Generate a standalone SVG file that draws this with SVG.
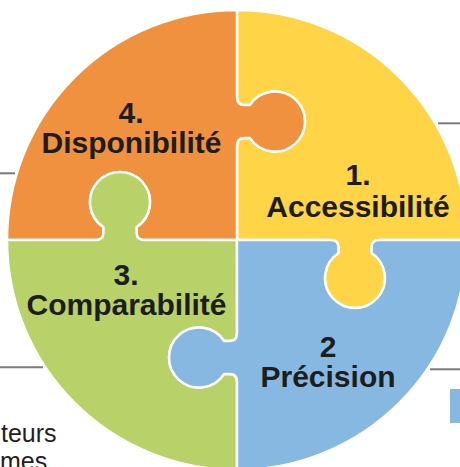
<svg xmlns="http://www.w3.org/2000/svg" width="460" height="467" viewBox="0 0 460 467">
<style>
.piece{stroke:#fff;stroke-width:2.5;stroke-linejoin:round}
.lbl{font-family:"Liberation Sans",Arial,sans-serif;font-weight:bold;font-size:30px;fill:#1d1d1b;text-anchor:middle}
.side{font-family:"Liberation Sans",Arial,sans-serif;font-size:25px;fill:#231f20}
.rule{stroke:#7a7a7a;stroke-width:2}
</style>
<rect width="460" height="467" fill="#fff"/>
<g id="rules">
<line class="rule" x1="0" y1="173.3" x2="15" y2="173.3"/>
<line class="rule" x1="438" y1="123.3" x2="460" y2="123.3"/>
<line class="rule" x1="0" y1="367.3" x2="43" y2="367.3"/>
<line class="rule" x1="430" y1="369.3" x2="460" y2="369.3"/>
<rect x="450" y="389" width="10" height="34" fill="#86B8E1"/>
</g>
<g id="side-text">
<text class="side" x="1" y="442">teurs</text>
<text class="side" x="0" y="470">mes</text>
</g>
<g id="piece-1-accessibilite">
<path class="piece" fill="#FFD447" d="M 237,10 L 237,96.9 Q 237,104.9 244,104.9 L 250,104.9 A 30 30 0 1 1 250,138.1 L 244,138.1 Q 237,138.1 237,146.1 L 237,240 L 330.4,240 Q 338.4,240 338.4,247 L 338.4,253 A 30 30 0 1 0 371.6,253 L 371.6,247 Q 371.6,240 379.6,240 L 467,240 A 230 230 0 0 0 237,10 Z"/>
<text class="lbl" x="358" y="185">1.</text>
<text class="lbl" x="358" y="217">Accessibilité</text>
</g>
<g id="piece-4-disponibilite">
<path class="piece" fill="#F0913F" d="M 237,10 A 230 230 0 0 0 7,240 L 95.4,240 Q 103.4,240 103.4,233 L 103.4,227 A 30 30 0 1 1 136.6,227 L 136.6,233 Q 136.6,240 144.6,240 L 237,240 L 237,146.1 Q 237,138.1 244,138.1 L 250,138.1 A 30 30 0 1 0 250,104.9 L 244,104.9 Q 237,104.9 237,96.9 Z"/>
<text class="lbl" x="131" y="123">4.</text>
<text class="lbl" x="131.5" y="153">Disponibilité</text>
</g>
<g id="piece-3-comparabilite">
<path class="piece" fill="#B8D168" d="M 7,240 L 95.4,240 Q 103.4,240 103.4,233 L 103.4,227 A 30 30 0 1 1 136.6,227 L 136.6,233 Q 136.6,240 144.6,240 L 237,240 L 237,332.9 Q 237,340.9 230,340.9 L 224,340.9 A 30 30 0 1 0 224,374.1 L 230,374.1 Q 237,374.1 237,382.1 L 237,470 A 230 230 0 0 1 7,240 Z"/>
<text class="lbl" x="126" y="285">3.</text>
<text class="lbl" x="126.5" y="315">Comparabilité</text>
</g>
<g id="piece-2-precision">
<path class="piece" fill="#86B8E1" d="M 237,240 L 330.4,240 Q 338.4,240 338.4,247 L 338.4,253 A 30 30 0 1 0 371.6,253 L 371.6,247 Q 371.6,240 379.6,240 L 467,240 A 230 230 0 0 1 237,470 L 237,382.1 Q 237,374.1 230,374.1 L 224,374.1 A 30 30 0 1 1 224,340.9 L 230,340.9 Q 237,340.9 237,332.9 Z"/>
<text class="lbl" x="328" y="357">2</text>
<text class="lbl" x="328" y="387">Précision</text>
</g>
</svg>
